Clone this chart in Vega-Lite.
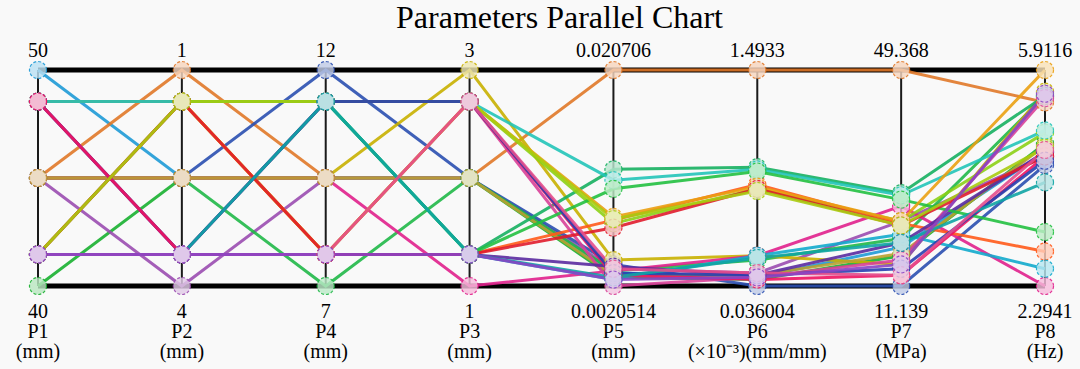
{
  "$schema": "https://vega.github.io/schema/vega-lite/v6.json",
  "width": 1007,
  "height": 216,
  "autosize": {"type": "none"},
  "padding": {"left": 38, "top": 70, "right": 35, "bottom": 83},
  "background": "#f9f9f9",
  "config": {"view": {"stroke": null}, "font": "Times New Roman, Liberation Serif, Times, serif"},
  "title": {"text": "Parameters Parallel Chart", "font": "Times New Roman, Liberation Serif, Times, serif", "fontSize": 32, "fontWeight": "normal", "color": "#000", "anchor": "middle", "baseline": "alphabetic", "offset": 8, "dy": 27, "dx": 18},
  "datasets": {
    "runs": [
      {"run": "R01", "P1": 1, "P2": 0.5, "P4": 0.5, "P3": 0.5, "P5": 0.06, "P6": 0.04, "P7": 0.18, "P8": 0.62},
      {"run": "R02", "P1": 0, "P2": 0.5, "P4": 0.5, "P3": 0.5, "P5": 0.04, "P6": 0.03, "P7": 0.14, "P8": 0.66},
      {"run": "R03", "P1": 0.5, "P2": 1, "P4": 0.5, "P3": 0.5, "P5": 1, "P6": 1, "P7": 1, "P8": 0.85},
      {"run": "R04", "P1": 0.5, "P2": 0, "P4": 0.5, "P3": 0.5, "P5": 0.08, "P6": 0.06, "P7": 0.30, "P8": 0.60},
      {"run": "R05", "P1": 0.5, "P2": 0.5, "P4": 1, "P3": 0.5, "P5": 0.10, "P6": 0, "P7": 0, "P8": 0.56},
      {"run": "R06", "P1": 0.5, "P2": 0.5, "P4": 0, "P3": 0.5, "P5": 0.07, "P6": 0.12, "P7": 0.22, "P8": 0.88},
      {"run": "R07", "P1": 0.5, "P2": 0.5, "P4": 0.5, "P3": 1, "P5": 0.12, "P6": 0.14, "P7": 0.10, "P8": 0.90},
      {"run": "R08", "P1": 0.5, "P2": 0.5, "P4": 0.5, "P3": 0, "P5": 0.07, "P6": 0.14, "P7": 0.37, "P8": 0},
      {"run": "R09", "P1": 0.5, "P2": 0.5, "P4": 0.5, "P3": 0.5, "P5": 0.05, "P6": 0.05, "P7": 0.15, "P8": 0.65},
      {"run": "R10", "P1": 0.854, "P2": 0.854, "P4": 0.854, "P3": 0.146, "P5": 0.54, "P6": 0.55, "P7": 0.43, "P8": 0.88},
      {"run": "R11", "P1": 0.854, "P2": 0.854, "P4": 0.146, "P3": 0.854, "P5": 0.29, "P6": 0.45, "P7": 0.30, "P8": 0.71},
      {"run": "R12", "P1": 0.854, "P2": 0.854, "P4": 0.146, "P3": 0.146, "P5": 0.305, "P6": 0.47, "P7": 0.29, "P8": 0.16},
      {"run": "R13", "P1": 0.854, "P2": 0.854, "P4": 0.854, "P3": 0.854, "P5": 0.49, "P6": 0.54, "P7": 0.42, "P8": 0.72},
      {"run": "R14", "P1": 0.854, "P2": 0.146, "P4": 0.854, "P3": 0.146, "P5": 0.03, "P6": 0.14, "P7": 0.24, "P8": 0.08},
      {"run": "R15", "P1": 0.854, "P2": 0.146, "P4": 0.146, "P3": 0.854, "P5": 0, "P6": 0.04, "P7": 0.12, "P8": 0.87},
      {"run": "R16", "P1": 0.854, "P2": 0.146, "P4": 0.146, "P3": 0.146, "P5": 0.09, "P6": 0.05, "P7": 0.20, "P8": 0.62},
      {"run": "R17", "P1": 0.854, "P2": 0.146, "P4": 0.854, "P3": 0.854, "P5": 0.05, "P6": 0.03, "P7": 0.05, "P8": 0.60},
      {"run": "R18", "P1": 0.146, "P2": 0.854, "P4": 0.854, "P3": 0.146, "P5": 0.45, "P6": 0.53, "P7": 0.40, "P8": 0.25},
      {"run": "R19", "P1": 0.146, "P2": 0.854, "P4": 0.146, "P3": 0.854, "P5": 0.32, "P6": 0.46, "P7": 0.30, "P8": 1},
      {"run": "R20", "P1": 0.146, "P2": 0.854, "P4": 0.146, "P3": 0.146, "P5": 0.27, "P6": 0.45, "P7": 0.28, "P8": 0.60},
      {"run": "R21", "P1": 0.146, "P2": 0.854, "P4": 0.854, "P3": 0.854, "P5": 0.31, "P6": 0.44, "P7": 0.28, "P8": 0.64},
      {"run": "R22", "P1": 0.146, "P2": 0.146, "P4": 0.854, "P3": 0.854, "P5": 0.06, "P6": 0.05, "P7": 0.08, "P8": 0.58},
      {"run": "R23", "P1": 0.146, "P2": 0.146, "P4": 0.854, "P3": 0.146, "P5": 0.04, "P6": 0.13, "P7": 0.20, "P8": 0.48},
      {"run": "R24", "P1": 0.146, "P2": 0.146, "P4": 0.146, "P3": 0.854, "P5": 0.08, "P6": 0.06, "P7": 0.05, "P8": 0.63},
      {"run": "R25", "P1": 0.146, "P2": 0.146, "P4": 0.146, "P3": 0.146, "P5": 0.03, "P6": 0.04, "P7": 0.10, "P8": 0.89}
    ],
    "axes": [
      {"key": "P1", "top": "50", "below": "40\nP1\n(mm)"},
      {"key": "P2", "top": "1", "below": "4\nP2\n(mm)"},
      {"key": "P4", "top": "12", "below": "7\nP4\n(mm)"},
      {"key": "P3", "top": "3", "below": "1\nP3\n(mm)"},
      {"key": "P5", "top": "0.020706", "below": "0.0020514\nP5\n(mm)"},
      {"key": "P6", "top": "1.4933", "below": "0.036004\nP6\n(×10⁻³)(mm/mm)"},
      {"key": "P7", "top": "49.368", "below": "11.139\nP7\n(MPa)"},
      {"key": "P8", "top": "5.9116", "below": "2.2941\nP8\n(Hz)"}
    ],
    "bounds": [{"b": 0}, {"b": 1}]
  },
  "layer": [
    {
      "data": {"name": "axes"},
      "mark": {"type": "rule", "color": "#1a1a1a", "strokeWidth": 2},
      "encoding": {
        "x": {"field": "key", "type": "nominal", "scale": {"type": "point", "domain": ["P1","P2","P4","P3","P5","P6","P7","P8"], "padding": 0}, "axis": null},
        "y": {"datum": 0, "type": "quantitative", "scale": {"domain": [0, 1], "nice": false, "zero": false}, "axis": null},
        "y2": {"datum": 1}
      }
    },
    {
      "data": {"name": "bounds"},
      "mark": {"type": "rule", "color": "#000", "strokeWidth": 5},
      "encoding": {
        "y": {"field": "b", "type": "quantitative", "scale": {"domain": [0, 1], "nice": false, "zero": false}, "axis": null}
      }
    },
    {
      "data": {"name": "runs"},
      "transform": [{"fold": ["P1","P2","P4","P3","P5","P6","P7","P8"], "as": ["key", "v"]}],
      "mark": {"type": "line", "strokeWidth": 3, "opacity": 0.9},
      "encoding": {
        "x": {"field": "key", "type": "nominal", "axis": null},
        "y": {"field": "v", "type": "quantitative", "axis": null},
        "color": {"field": "run", "type": "nominal", "legend": null, "scale": {"domain": ["R01","R02","R03","R04","R05","R06","R07","R08","R09","R10","R11","R12","R13","R14","R15","R16","R17","R18","R19","R20","R21","R22","R23","R24","R25"], "range": ["#1e9ad6","#18b030","#e07828","#9a4db0","#2a4fb0","#20b848","#c8b000","#e0208c","#b8a030","#16b060","#8cd016","#ff5a1a","#22c4b8","#12aacc","#d84098","#5a2aa0","#ee1460","#22c040","#eaa012","#e01c2c","#a8cc10","#2840b0","#10a4a4","#e44c8c","#8a44c4"]}},
        "order": {"value": null}
      }
    },
    {
      "data": {"name": "runs"},
      "transform": [{"fold": ["P1","P2","P4","P3","P5","P6","P7","P8"], "as": ["key", "v"]}],
      "mark": {"type": "point", "shape": "circle", "size": 290, "filled": true, "fillOpacity": 0.82, "strokeWidth": 1.2, "strokeDash": [3, 2], "strokeOpacity": 0.9},
      "encoding": {
        "x": {"field": "key", "type": "nominal", "axis": null},
        "y": {"field": "v", "type": "quantitative", "axis": null},
        "fill": {"field": "run", "type": "nominal", "legend": null, "scale": {"domain": ["R01","R02","R03","R04","R05","R06","R07","R08","R09","R10","R11","R12","R13","R14","R15","R16","R17","R18","R19","R20","R21","R22","R23","R24","R25"], "range": ["#bbe1f3","#bae7c1","#f6d6be","#e1cae7","#bfcae7","#bceac8","#eee7b2","#f6bcdc","#eae2c1","#b9e7cf","#dcf1b9","#ffcdba","#bdedea","#b8e6f0","#f3c6e0","#cebfe3","#fab9cf","#bdecc6","#f9e2b8","#f6bbc0","#e5f0b7","#bfc6e7","#b7e4e4","#f7c9dc","#dcc7ed"]}},
        "stroke": {"field": "run", "type": "nominal", "legend": null, "scale": {"domain": ["R01","R02","R03","R04","R05","R06","R07","R08","R09","R10","R11","R12","R13","R14","R15","R16","R17","R18","R19","R20","R21","R22","R23","R24","R25"], "range": ["#1e9ad6","#18b030","#e07828","#9a4db0","#2a4fb0","#20b848","#c8b000","#e0208c","#b8a030","#16b060","#8cd016","#ff5a1a","#22c4b8","#12aacc","#d84098","#5a2aa0","#ee1460","#22c040","#eaa012","#e01c2c","#a8cc10","#2840b0","#10a4a4","#e44c8c","#8a44c4"]}}
      }
    },
    {
      "data": {"name": "axes"},
      "mark": {"type": "text", "font": "Times New Roman, Liberation Serif, Times, serif", "fontSize": 20, "baseline": "alphabetic", "align": "center", "dy": -13, "color": "#000"},
      "encoding": {
        "x": {"field": "key", "type": "nominal", "axis": null},
        "y": {"datum": 1, "type": "quantitative"},
        "text": {"field": "top"}
      }
    },
    {
      "data": {"name": "axes"},
      "mark": {"type": "text", "font": "Times New Roman, Liberation Serif, Times, serif", "fontSize": 20, "baseline": "alphabetic", "align": "center", "dy": 32, "lineBreak": "\n", "lineHeight": 20, "color": "#000"},
      "encoding": {
        "x": {"field": "key", "type": "nominal", "axis": null},
        "y": {"datum": 0, "type": "quantitative"},
        "text": {"field": "below"}
      }
    }
  ]
}
